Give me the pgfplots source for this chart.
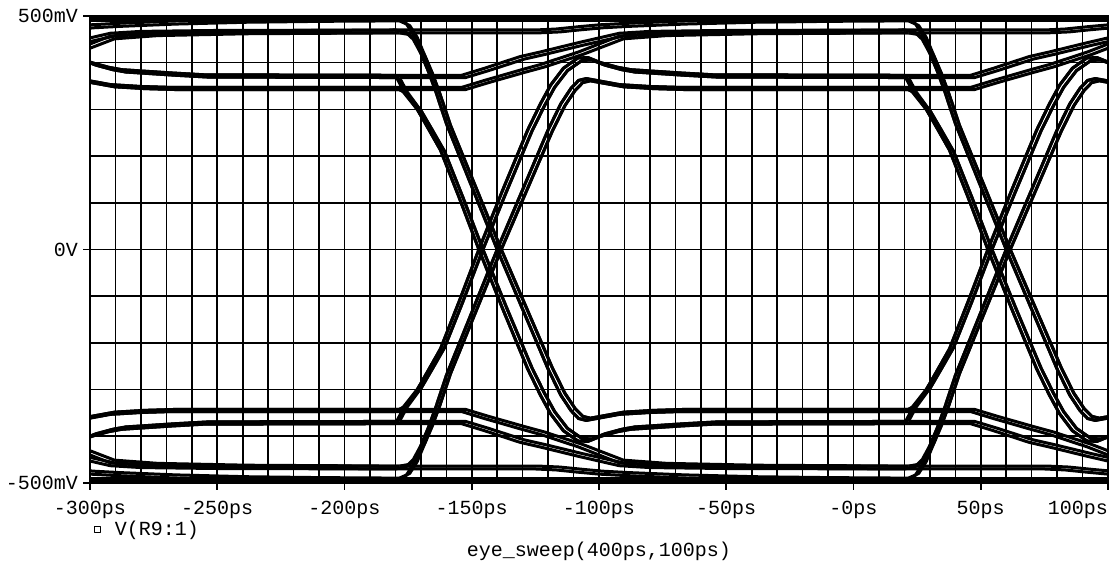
\documentclass[border=0pt]{standalone}
\usepackage{pgfplots}
\pgfplotsset{compat=1.18}
\usepackage{pgfplotstable}
\usepackage{fontspec}
\setmainfont{Liberation Mono}

% One bit interval (200 ps) of the received waveform, t measured from the
% start of the bit; the level reached depends on the preceding bits.
% Positive-ending segments; the negative ones are their mirror images.

% settled high stays high
\pgfplotstableread{
t v
0 496
200 496
}\tDD

% second-level high creeping up to the settled level
\pgfplotstableread{
t v
0 470
55 470
63 472
72 477
80 481
90 484
112 489
140 493
170 495
200 496
}\tCD

% high after an overshooting edge
\pgfplotstableread{
t v
0 373
26 373
35 388
49 413
57 423
72 443
88 463
100 467
130 469
200 470
}\tAC

% high after a slow edge
\pgfplotstableread{
t v
0 347
26 347
35 362
49 384
57 396
72 423
88 457
105 464
140 468
200 470
}\tBC

% edge starting from a settled low
\pgfplotstableread{
t v
0 -496
4 -486
7 -460
10 -420
13 -381
16 -336
20 -270
30 -135
40 0
50 128
60 256
65 312
69 345
72 362
75 366
79 362
88 353
100 349
112 347
200 347
}\tRlD

\pgfplotstableread{
t v
0 -470
4 -466
7 -450
10 -420
13 -381
16 -336
20 -270
30 -135
40 0
50 128
60 256
65 312
69 345
72 362
75 366
79 362
88 353
100 349
112 347
200 347
}\tRlC

% edge starting from a fresh low (crosses earlier, overshoots)
\pgfplotstableread{
t v
0 -373
3 -342
8.7 -299
12.6 -262
17.7 -213
25 -112
32.8 0
42 125
52 256
57 312
61 352
66 388
71.7 410
75.6 411
80.7 400
87.4 390
92.5 385
112 378
125 374
200 373
}\tReA

\pgfplotstableread{
t v
0 -347
3 -338
8.7 -299
12.6 -262
17.7 -213
25 -112
32.8 0
42 125
52 256
57 312
61 352
66 388
71.7 410
75.6 411
80.7 400
87.4 390
92.5 385
112 378
125 374
200 373
}\tReB

% a segment placed at bit start #2 with polarity #3, plus its neighbouring sweep
\newcommand{\trace}[3]{%
  \addplot table[x expr=\thisrow{t}+(#2), y expr=(#3)*\thisrow{v}] {#1};
  \addplot table[x expr=\thisrow{t}+(#2)+1.6, y expr=(#3)*0.987*\thisrow{v}] {#1};
}

\begin{document}
\begin{tikzpicture}[font=\fontsize{10pt}{12pt}\selectfont]
\useasboundingbox (-45pt,-41pt) rectangle (512.5pt,241.5pt);
\begin{axis}[
  at={(0,0)}, anchor=south west,
  scale only axis, width=509pt, height=233.5pt,
  xmin=-300, xmax=100, ymin=-500, ymax=500,
  xtick={-300,-250,-200,-150,-100,-50,0,50,100},
  xticklabels={-300ps,-250ps,-200ps,-150ps,-100ps,-50ps,-0ps,50ps,\makebox[0pt][r]{100ps}},
  ytick={-500,0,500},
  yticklabels={-500mV,0V,500mV},
  minor x tick num=4, minor y tick num=4,
  grid=both,
  major grid style={black, line width=0.8pt},
  minor grid style={black, line width=0.8pt},
  tick align=outside, xtick pos=left, ytick pos=left,
  major tick length=3.5pt, minor tick length=0pt,
  tick style={black, line width=0.8pt},
  axis line style={black, line width=0.9pt},
  xticklabel style={yshift=-2pt},
  yticklabel style={xshift=1pt},
  xlabel={eye\_sweep(400ps,100ps)},
  xlabel style={at={(axis description cs:0.5,0)}, anchor=center, yshift=-34pt},
  legend style={at={(axis description cs:0,0)}, anchor=west, xshift=2pt, yshift=-23.5pt,
    draw=none, fill=none, inner sep=0pt, nodes={inner sep=0pt}},
  legend image code/.code={\draw[black, line width=0.5pt] (0pt,-1.5pt) rectangle (3pt,1.5pt); \path[draw=none] (0pt,0pt) -- (10pt,0pt);},
  cycle list={{black, solid}},
  every axis plot/.append style={black, line width=1.5pt, line join=round, no markers},
]
\addlegendimage{black}
\addlegendentry{V(R9:1)}
\pgfplotsinvokeforeach{-380,-180,20}{
  \trace{\tDD}{#1}{1}  \trace{\tDD}{#1}{-1}
  \trace{\tCD}{#1}{1}  \trace{\tCD}{#1}{-1}
  \trace{\tAC}{#1}{1}  \trace{\tAC}{#1}{-1}
  \trace{\tBC}{#1}{1}  \trace{\tBC}{#1}{-1}
  \trace{\tRlD}{#1}{1} \trace{\tRlD}{#1}{-1}
  \trace{\tRlC}{#1}{1} \trace{\tRlC}{#1}{-1}
  \trace{\tReA}{#1}{1} \trace{\tReA}{#1}{-1}
  \trace{\tReB}{#1}{1} \trace{\tReB}{#1}{-1}
}
\end{axis}
\end{tikzpicture}
\end{document}
